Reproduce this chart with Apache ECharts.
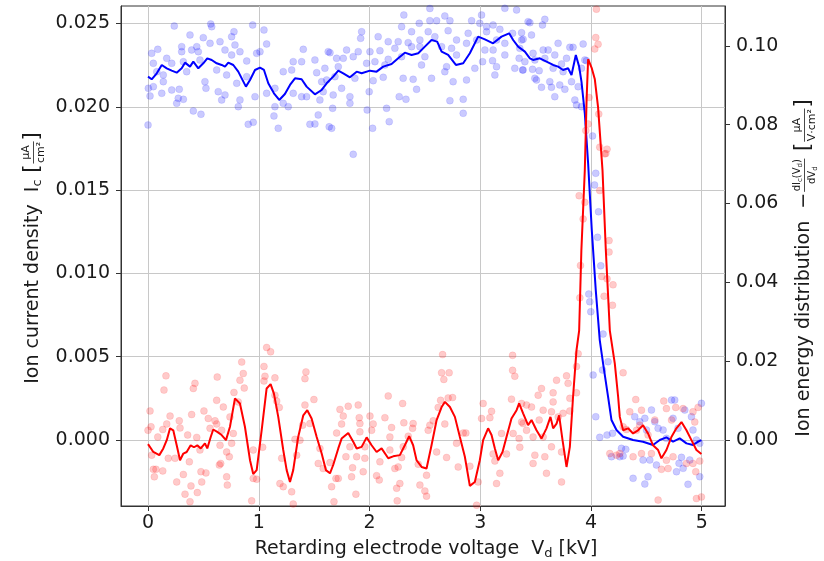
<!DOCTYPE html>
<html>
<head>
    <meta charset="UTF-8">
    <title>Ion current density and energy distribution</title>
    <script src="https://cdn.jsdelivr.net/npm/echarts@6/dist/echarts.min.js"></script>
    <style>
        html, body { margin: 0; padding: 0; background: #fff; }
        #main { width: 824px; height: 561px; }
    </style>
</head>
<body>
<div id="main"></div>
<script type="text/javascript">

    // tick positions
    var xTicks = [0, 1, 2, 3, 4, 5];
    var currentTicks = [0, 0.005, 0.010, 0.015, 0.020, 0.025];
    var distTicks = [0, 0.02, 0.04, 0.06, 0.08, 0.10];

    // measured ion current density (blue dots), [V_d kV, I_c]
    var currentDots = [
        [0.237,0.02485],[0.566,0.02497],[0.575,0.02481],[0.945,0.02491],[0.379,0.02431],[0.776,0.02451],[0.755,0.02421],[1.047,0.02461],
        [0.499,0.02415],[0.650,0.02391],[0.560,0.02381],[0.440,0.02361],[0.304,0.02361],[1.071,0.02377],[0.785,0.02371],[0.088,0.02345],
        [0.033,0.02321],[0.304,0.02331],[0.394,0.02341],[0.454,0.02331],[0.695,0.02341],[0.830,0.02331],[0.981,0.02321],[1.011,0.02331],
        [1.402,0.02345],[1.627,0.02331],[0.169,0.02291],[0.048,0.02261],[0.214,0.02261],[0.319,0.02271],[0.469,0.02281],[0.755,0.02311],
        [0.891,0.02275],[1.311,0.02271],[1.387,0.02271],[1.507,0.02281],[0.079,0.02211],[0.138,0.02191],[0.349,0.02211],[0.620,0.02221],
        [0.710,0.02191],[0.891,0.02181],[1.221,0.02211],[1.297,0.02221],[1.523,0.02205],[0.003,0.02111],[0.048,0.02121],[0.138,0.02151],
        [0.214,0.02101],[0.282,0.02105],[0.514,0.02151],[0.523,0.02111],[0.634,0.02091],[0.801,0.02141],[1.071,0.02081],[1.146,0.02111],
        [1.311,0.02081],[1.387,0.02061],[1.568,0.02151],[0.018,0.02065],[0.124,0.02081],[0.273,0.02051],[0.319,0.02045],[0.665,0.02041],
        [0.695,0.02071],[0.830,0.02041],[0.966,0.02061],[1.221,0.02021],[1.266,0.02001],[1.432,0.02061],[0.259,0.02021],[0.815,0.02001],
        [1.146,0.02001],[0.409,0.01975],[0.478,0.01955],[1.137,0.01945],[1.537,0.01951],[0.000,0.01891],[0.905,0.01895],[0.950,0.01907],
        [1.176,0.01871],[1.462,0.01895],[1.507,0.01897],[1.636,0.01880],
        [2.310,0.02551],[2.680,0.02545],[3.012,0.02551],[2.545,0.02590],[3.222,0.02591],[3.328,0.02581],[2.290,0.02481],[2.449,0.02501],
        [2.545,0.02517],[2.606,0.02517],[2.726,0.02517],[2.922,0.02517],[2.996,0.02501],[3.057,0.02481],[3.116,0.02491],[3.432,0.02511],
        [1.929,0.02451],[1.920,0.02411],[2.380,0.02451],[2.530,0.02451],[2.710,0.02457],[2.891,0.02441],[3.057,0.02451],[3.177,0.02465],
        [3.292,0.02441],[3.373,0.02445],[2.078,0.02421],[2.169,0.02391],[2.259,0.02391],[2.349,0.02385],[2.455,0.02401],[2.590,0.02421],
        [2.786,0.02401],[2.876,0.02381],[2.967,0.02401],[3.147,0.02401],[3.222,0.02381],[3.373,0.02401],[1.793,0.02341],[1.898,0.02331],
        [2.004,0.02331],[2.094,0.02337],[2.229,0.02351],[2.380,0.02361],[2.455,0.02361],[2.651,0.02361],[2.741,0.02351],[3.042,0.02341],
        [3.116,0.02341],[3.222,0.02311],[1.643,0.02325],[1.703,0.02291],[1.763,0.02291],[1.853,0.02301],[2.049,0.02271],[2.169,0.02285],
        [2.290,0.02301],[2.500,0.02301],[2.786,0.02311],[3.021,0.02271],[3.111,0.02277],[3.351,0.02291],[1.597,0.02231],[1.718,0.02241],
        [1.974,0.02261],[2.139,0.02251],[2.470,0.02251],[2.696,0.02241],[2.951,0.02231],[3.147,0.02241],[3.312,0.02231],[3.387,0.02221],
        [1.613,0.02161],[1.688,0.02181],[1.868,0.02171],[2.033,0.02157],[2.124,0.02177],[2.304,0.02171],[2.394,0.02165],[2.560,0.02171],
        [2.680,0.02211],[2.755,0.02151],[2.876,0.02161],[3.132,0.02191],[1.582,0.02091],[1.748,0.02111],[1.997,0.02091],[2.425,0.02105],
        [1.672,0.02071],[1.823,0.02061],[2.268,0.02061],[2.329,0.02045],[1.552,0.02041],[2.726,0.02037],[2.846,0.02045],[1.823,0.02021],
        [1.667,0.01991],[1.979,0.01981],[2.154,0.01991],[2.178,0.01911],[2.846,0.01961],[1.658,0.01871],[2.028,0.01871],[1.853,0.01715],
        [3.583,0.02525],[3.562,0.02491],[3.448,0.02505],[3.463,0.02431],[3.387,0.02405],[3.357,0.02351],[3.477,0.02321],[3.568,0.02341],
        [3.613,0.02341],[3.703,0.02381],[3.809,0.02357],[3.838,0.02357],[3.929,0.02377],[3.403,0.02271],[3.493,0.02281],[3.583,0.02291],
        [3.673,0.02311],[3.734,0.02257],[3.779,0.02291],[3.944,0.02281],[3.959,0.02277],[3.382,0.02221],[3.472,0.02225],[3.532,0.02217],
        [3.658,0.02231],[3.748,0.02211],[3.914,0.02231],[3.493,0.02171],[3.508,0.02161],[3.628,0.02151],[3.718,0.02131],[3.824,0.02151],
        [3.553,0.02117],[3.643,0.02117],[3.764,0.02105],[3.884,0.02121],[3.673,0.02061],[3.854,0.02041],[3.869,0.02011],[3.914,0.02001],
        [4.014,0.01825],[4.043,0.01601],[4.032,0.01531],[4.068,0.01370],[4.059,0.01217],[4.088,0.01046],[3.980,0.00876],[3.989,0.00830],
        [3.998,0.00770],[4.109,0.00636],[4.019,0.00390],[4.104,0.00420],[4.154,0.00470],[4.043,0.00140],[4.079,0.00016],[4.145,0.00030],
        [4.194,0.00040],[4.185,-0.00100],[4.275,-0.00050],[4.314,-0.00056],[4.260,-0.00100],[4.290,-0.00096],[4.380,-0.00230],[4.395,0.00140],
        [4.440,0.00110],[4.486,0.00130],[4.501,0.00060],[4.546,0.00180],[4.576,0.00110],[4.606,0.00070],[4.470,-0.00120],[4.486,-0.00264],
        [4.515,-0.00220],[4.531,-0.00120],[4.591,-0.00150],[4.651,0.00060],[4.681,0.00010],[4.727,0.00240],[4.756,0.00240],[4.741,0.00130],
        [4.786,0.00070],[4.795,-0.00140],[4.817,-0.00104],[4.847,0.00180],[4.772,-0.00190],[4.832,-0.00170],[4.876,-0.00266],[4.907,0.00140],
        [4.921,0.00060],[4.952,0.00000],[4.982,-0.00020],[4.997,0.00220],[4.982,-0.00220],[4.892,-0.00120]
    ];

    // smoothed ion current density (blue line)
    var currentLine = [
        [0.000,0.02181],[0.033,0.02165],[0.079,0.02201],[0.124,0.02251],[0.169,0.02231],[0.214,0.02217],[0.259,0.02205],[0.304,0.02231],
        [0.334,0.02265],[0.379,0.02241],[0.409,0.02271],[0.454,0.02231],[0.499,0.02261],[0.535,0.02291],[0.575,0.02281],[0.620,0.02261],
        [0.665,0.02251],[0.695,0.02241],[0.725,0.02265],[0.770,0.02251],[0.815,0.02211],[0.884,0.02121],[0.921,0.02161],[0.966,0.02221],
        [1.011,0.02235],[1.047,0.02221],[1.086,0.02141],[1.137,0.02081],[1.185,0.02041],[1.236,0.02077],[1.282,0.02131],[1.327,0.02171],
        [1.387,0.02165],[1.432,0.02121],[1.507,0.02075],[1.568,0.02101],[1.613,0.02141],[1.672,0.02181],[1.718,0.02217],[1.763,0.02201],
        [1.823,0.02177],[1.884,0.02211],[1.929,0.02201],[2.004,0.02217],[2.064,0.02211],[2.124,0.02241],[2.199,0.02257],[2.259,0.02291],
        [2.319,0.02325],[2.380,0.02311],[2.440,0.02321],[2.500,0.02361],[2.560,0.02401],[2.611,0.02391],[2.651,0.02331],[2.710,0.02311],
        [2.780,0.02251],[2.846,0.02261],[2.906,0.02321],[2.981,0.02421],[3.042,0.02405],[3.116,0.02381],[3.192,0.02421],[3.261,0.02441],
        [3.297,0.02401],[3.342,0.02361],[3.403,0.02331],[3.448,0.02291],[3.477,0.02281],[3.538,0.02291],[3.598,0.02271],[3.658,0.02251],
        [3.703,0.02241],[3.748,0.02221],[3.793,0.02231],[3.824,0.02191],[3.863,0.02311],[3.893,0.02241],[3.914,0.02151],[3.944,0.01961],
        [3.974,0.01661],[4.007,0.01261],[4.043,0.00900],[4.079,0.00600],[4.109,0.00460],[4.154,0.00260],[4.185,0.00120],[4.230,0.00060],
        [4.290,0.00020],[4.380,0.00000],[4.470,-0.00010],[4.560,-0.00030],[4.621,0.00000],[4.681,0.00016],[4.741,-0.00010],[4.801,0.00010],
        [4.862,-0.00020],[4.922,-0.00030],[4.967,-0.00010],[4.997,0.00000]
    ];

    // raw energy distribution (red dots), [V_d kV, -dI/dV]
    var distDots = [
        [1.071,0.0235],[1.107,0.0224],[0.846,0.0198],[0.162,0.0163],[0.144,0.0127],[0.424,0.0144],[0.409,0.0131],[0.625,0.0160],
        [0.830,0.0152],[0.860,0.0169],[0.869,0.0132],[1.047,0.0187],[1.056,0.0162],[1.047,0.0150],[1.146,0.0158],[1.426,0.0173],
        [1.417,0.0156],[0.776,0.0121],[0.620,0.0101],[0.680,0.0084],[0.815,0.0097],[1.146,0.0114],[1.162,0.0099],[1.185,0.0083],
        [1.498,0.0103],[1.417,0.0089],[0.018,0.0074],[0.199,0.0061],[0.282,0.0049],[0.394,0.0065],[0.505,0.0074],[0.544,0.0055],
        [0.605,0.0049],[0.740,0.0059],[0.000,0.0025],[0.027,0.0034],[0.133,0.0027],[0.169,0.0041],[0.289,0.0031],[0.560,0.0030],
        [0.620,0.0041],[0.665,0.0025],[0.770,0.0017],[1.396,0.0038],[1.462,0.0042],[0.088,0.0008],[0.358,0.0013],[0.440,0.0007],
        [0.650,-0.0013],[0.755,-0.0008],[0.950,-0.0025],[1.035,-0.0018],[1.327,0.0002],[1.372,0.0000],[1.552,-0.0021],[0.033,-0.0038],
        [0.183,-0.0046],[0.244,-0.0046],[0.373,-0.0055],[0.469,-0.0025],[0.710,-0.0030],[0.734,-0.0042],[0.656,-0.0059],[0.644,-0.0063],
        [1.207,-0.0046],[1.342,-0.0038],[1.537,-0.0059],[1.582,-0.0072],[0.048,-0.0074],[0.072,-0.0074],[0.133,-0.0078],[0.057,-0.0093],
        [0.319,-0.0087],[0.478,-0.0080],[0.523,-0.0083],[0.710,-0.0093],[0.950,-0.0097],[0.981,-0.0099],[1.191,-0.0110],[0.259,-0.0106],
        [0.485,-0.0106],[0.388,-0.0116],[0.716,-0.0114],[1.221,-0.0118],[1.297,-0.0131],[0.334,-0.0137],[0.445,-0.0133],[0.379,-0.0156],
        [0.936,-0.0154],[1.311,-0.0162],
        [2.660,0.0217],[3.292,0.0215],[2.651,0.0171],[2.719,0.0171],[2.671,0.0154],[3.292,0.0177],[3.312,0.0162],[2.169,0.0112],
        [2.642,0.0101],[2.710,0.0107],[2.750,0.0108],[3.282,0.0104],[1.733,0.0078],[1.808,0.0086],[1.898,0.0089],[2.299,0.0093],
        [3.026,0.0093],[3.418,0.0089],[1.763,0.0061],[1.907,0.0057],[2.004,0.0061],[2.139,0.0057],[2.620,0.0083],[3.102,0.0073],
        [3.012,0.0055],[3.087,0.0057],[1.748,0.0041],[1.913,0.0042],[2.033,0.0041],[2.199,0.0032],[2.310,0.0044],[2.394,0.0042],
        [2.545,0.0038],[2.575,0.0049],[2.680,0.0041],[3.373,0.0046],[1.703,0.0018],[1.913,0.0021],[2.019,0.0025],[2.184,0.0008],
        [2.350,0.0010],[2.389,0.0030],[2.530,0.0025],[2.846,0.0018],[2.870,0.0018],[3.192,0.0017],[3.297,0.0017],[3.351,0.0004],
        [1.823,-0.0017],[1.958,-0.0017],[2.304,-0.0017],[2.606,-0.0030],[2.786,-0.0008],[3.357,-0.0018],[1.787,-0.0042],[1.884,-0.0042],
        [1.958,-0.0046],[2.094,-0.0055],[2.184,-0.0025],[2.290,-0.0044],[2.696,-0.0044],[3.116,-0.0035],[3.237,-0.0035],[3.132,-0.0053],
        [1.643,-0.0057],[1.847,-0.0070],[1.943,-0.0080],[2.064,-0.0090],[2.229,-0.0072],[2.259,-0.0068],[2.440,-0.0061],[2.515,-0.0089],
        [2.801,-0.0068],[2.906,-0.0066],[3.177,-0.0084],[1.697,-0.0097],[1.718,-0.0097],[1.838,-0.0093],[2.088,-0.0101],[2.274,-0.0110],
        [2.455,-0.0114],[2.981,-0.0106],[3.147,-0.0110],[1.658,-0.0118],[2.245,-0.0122],[2.500,-0.0129],[1.877,-0.0137],[2.515,-0.0142],
        [1.679,-0.0156],[2.250,-0.0154],[2.967,-0.0165],
        [4.290,0.0171],[3.884,0.0219],[3.869,0.0187],[3.779,0.0163],[3.689,0.0152],[3.793,0.0144],[3.553,0.0131],[3.658,0.0120],
        [3.869,0.0120],[3.523,0.0114],[3.809,0.0106],[3.373,0.0093],[3.463,0.0084],[3.658,0.0097],[3.568,0.0076],[3.643,0.0072],
        [3.809,0.0074],[3.748,0.0068],[3.387,0.0042],[3.532,0.0051],[3.704,0.0059],[3.418,0.0025],[3.477,0.0008],[3.568,0.0008],
        [3.643,-0.0017],[3.734,-0.0030],[3.493,-0.0038],[3.583,-0.0042],[3.477,-0.0059],[3.598,-0.0084],[3.734,-0.0106],[4.404,0.0103],
        [4.350,0.0072],[4.456,0.0076],[4.657,0.0099],[4.681,0.0080],[4.765,0.0083],[4.831,0.0080],[4.921,0.0072],[4.967,0.0083],
        [4.576,0.0051],[4.727,0.0051],[4.937,0.0046],[4.290,0.0034],[4.320,0.0027],[4.411,0.0025],[4.515,0.0013],[4.440,0.0038],
        [4.170,-0.0034],[4.230,-0.0038],[4.260,-0.0034],[4.380,-0.0042],[4.456,-0.0034],[4.546,-0.0034],[4.741,-0.0042],[4.921,-0.0059],
        [4.982,-0.0053],[4.636,-0.0074],[4.681,-0.0051],[4.696,-0.0072],[4.862,-0.0059],[4.946,-0.0080],[4.606,-0.0152],[4.952,-0.0148],
        [4.997,-0.0144],
        [3.893,0.0620],[3.944,0.0603],[3.929,0.0561],[3.905,0.0443],[3.899,0.0361],[4.079,0.0633],[4.163,0.0506],[4.163,0.0477],
        [4.097,0.0415],[4.145,0.0409],[4.199,0.0394],[4.118,0.0365],[4.194,0.0342],[4.134,0.0727],[4.049,0.1093],[4.043,0.1021],
        [4.064,0.1004],[4.034,0.0992],[3.983,0.0869],[4.070,0.0827],[3.974,0.0802],[3.953,0.0785],[4.079,0.0743],[4.145,0.0738],
        [4.124,0.0726]
    ];

    // smoothed energy distribution (red line)
    var distLine = [
        [0.000,-0.0010],[0.048,-0.0030],[0.102,-0.0038],[0.138,-0.0021],[0.169,0.0000],[0.199,0.0030],[0.228,0.0025],[0.259,-0.0013],
        [0.289,-0.0051],[0.319,-0.0034],[0.349,-0.0030],[0.385,-0.0013],[0.415,-0.0018],[0.445,-0.0013],[0.476,-0.0021],[0.514,-0.0008],
        [0.535,-0.0021],[0.566,0.0008],[0.589,0.0027],[0.625,0.0021],[0.665,0.0013],[0.704,0.0000],[0.740,0.0034],[0.785,0.0106],
        [0.830,0.0093],[0.875,0.0034],[0.921,-0.0051],[0.950,-0.0086],[0.981,-0.0076],[1.026,0.0025],[1.071,0.0131],[1.107,0.0142],
        [1.137,0.0118],[1.176,0.0059],[1.221,-0.0025],[1.252,-0.0076],[1.282,-0.0106],[1.311,-0.0076],[1.356,0.0008],[1.402,0.0063],
        [1.438,0.0076],[1.477,0.0055],[1.523,0.0008],[1.568,-0.0034],[1.606,-0.0076],[1.643,-0.0084],[1.672,-0.0063],[1.718,-0.0021],
        [1.748,0.0004],[1.808,0.0018],[1.853,-0.0004],[1.884,-0.0021],[1.929,-0.0017],[1.974,0.0007],[2.019,-0.0013],[2.064,-0.0030],
        [2.109,-0.0021],[2.169,-0.0046],[2.214,-0.0041],[2.274,-0.0038],[2.319,-0.0013],[2.358,0.0010],[2.394,-0.0013],[2.425,-0.0051],
        [2.470,-0.0068],[2.515,-0.0072],[2.560,-0.0013],[2.606,0.0051],[2.651,0.0084],[2.681,0.0097],[2.726,0.0084],[2.771,0.0059],
        [2.816,0.0008],[2.861,-0.0042],[2.906,-0.0116],[2.951,-0.0106],[2.996,-0.0051],[3.026,0.0000],[3.071,0.0030],[3.102,0.0013],
        [3.132,-0.0021],[3.162,-0.0051],[3.201,-0.0030],[3.237,0.0008],[3.282,0.0055],[3.328,0.0076],[3.351,0.0093],[3.387,0.0068],
        [3.432,0.0038],[3.463,0.0051],[3.508,0.0025],[3.553,0.0004],[3.598,0.0030],[3.634,0.0059],[3.658,0.0030],[3.689,0.0042],
        [3.712,0.0063],[3.743,0.0000],[3.779,-0.0068],[3.809,-0.0017],[3.838,0.0110],[3.869,0.0228],[3.893,0.0278],[3.913,0.0481],
        [3.944,0.0684],[3.960,0.0861],[3.974,0.0966],[4.005,0.0945],[4.034,0.0916],[4.064,0.0844],[4.104,0.0684],[4.134,0.0481],
        [4.170,0.0278],[4.215,0.0194],[4.245,0.0110],[4.260,0.0059],[4.290,0.0025],[4.335,0.0030],[4.380,0.0017],[4.425,0.0025],
        [4.470,0.0038],[4.515,0.0017],[4.560,-0.0013],[4.606,-0.0025],[4.636,-0.0046],[4.681,-0.0025],[4.726,0.0008],[4.771,0.0030],
        [4.817,0.0046],[4.862,0.0025],[4.907,0.0000],[4.952,-0.0025],[4.997,-0.0035]
    ];

    var FONT = 'DejaVu Sans';
    var INK = '#1a1a1a';

    var measureCtx = document.createElement('canvas').getContext('2d');
    function textWidth(str, size) {
        measureCtx.font = size + 'px "' + FONT + '"';
        return measureCtx.measureText(str).width;
    }
    function runsWidth(runs) {
        var w = 0;
        runs.forEach(function (r) { w += textWidth(r[0], r[1]); });
        return w;
    }
    function placeRuns(runs, x, y, out) {
        runs.forEach(function (r) {
            out.push({
                type: 'text', x: x, y: y + r[2],
                style: { text: r[0], fontSize: r[1], fontFamily: FONT, fill: INK, align: 'left', verticalAlign: 'middle' }
            });
            x += textWidth(r[0], r[1]);
        });
        return x;
    }

    // axis title made of plain runs and stacked fractions
    function buildLabel(parts, cx, cy, rotation) {
        var widths = parts.map(function (p) {
            if (p.runs) return runsWidth(p.runs);
            return Math.max(runsWidth(p.num), runsWidth(p.den)) + 3;
        });
        var total = widths.reduce(function (a, b) { return a + b; }, 0);
        var x = -total / 2;
        var children = [];
        parts.forEach(function (p, i) {
            var w = widths[i];
            if (p.runs) {
                placeRuns(p.runs, x, 0, children);
            } else {
                placeRuns(p.num, x + (w - runsWidth(p.num)) / 2, -7, children);
                placeRuns(p.den, x + (w - runsWidth(p.den)) / 2, 8, children);
                children.push({
                    type: 'line',
                    shape: { x1: x + 1, y1: 0.5, x2: x + w - 1, y2: 0.5 },
                    style: { stroke: INK, lineWidth: 0.8 }
                });
            }
            x += w;
        });
        return { type: 'group', x: cx, y: cy, rotation: rotation, silent: true, children: children };
    }

    var xTitle = buildLabel([
        { runs: [['Retarding electrode voltage  V', 19, 0], ['d', 13, 5], [' [kV]', 19, 0]] }
    ], 426, 549, 0);

    var leftTitle = buildLabel([
        { runs: [['Ion current density  I', 19, 0], ['c', 13, 5], [' [', 21, 0]] },
        { num: [['μA', 11, 0]], den: [['cm²', 11, 0]] },
        { runs: [[']', 21, 0]] }
    ], 33, 258, Math.PI / 2);

    var rightTitle = buildLabel([
        { runs: [['Ion energy distribution  −', 19, 0]] },
        { num: [['dI', 10, 0], ['c', 7, 3], ['(V', 10, 0], ['d', 7, 3], [')', 10, 0]], den: [['dV', 10, 0], ['d', 7, 3]] },
        { runs: [[' [', 21, 0]] },
        { num: [['μA', 11, 0]], den: [['V·cm²', 11, 0]] },
        { runs: [[']', 21, 0]] }
    ], 804, 268, Math.PI / 2);

    var myChart = echarts.init(document.getElementById('main'));

    var option = {
        animation: false,
        backgroundColor: '#fff',
        grid: {
            left: 121, right: 99, top: 6, bottom: 55,
            show: true, borderColor: '#333', borderWidth: 1
        },
        xAxis: {
            type: 'value', min: -0.244, max: 5.21,
            axisLine: { show: true, onZero: false, lineStyle: { color: '#333' } },
            axisTick: { show: true, customValues: xTicks, length: 5, lineStyle: { color: '#333' } },
            axisLabel: {
                customValues: xTicks, fontSize: 19, fontFamily: FONT, color: INK, margin: 8,
                formatter: function (v) { return String(Math.round(v)); }
            },
            splitLine: { show: true, lineStyle: { color: '#c8c8c8', width: 1 } }
        },
        yAxis: [
            {
                type: 'value', position: 'left', min: -0.00396, max: 0.02605,
                axisLine: { show: true, onZero: false, lineStyle: { color: '#333' } },
                axisTick: { show: true, customValues: currentTicks, length: 5, lineStyle: { color: '#333' } },
                axisLabel: {
                    customValues: currentTicks, fontSize: 19, fontFamily: FONT, color: INK, margin: 11,
                    formatter: function (v) { return v.toFixed(3); }
                },
                splitLine: { show: true, lineStyle: { color: '#c8c8c8', width: 1 } }
            },
            {
                type: 'value', position: 'right', min: -0.0167, max: 0.1101,
                axisLine: { show: true, onZero: false, lineStyle: { color: '#333' } },
                axisTick: { show: true, customValues: distTicks, length: 5, lineStyle: { color: '#333' } },
                axisLabel: {
                    customValues: distTicks, fontSize: 19, fontFamily: FONT, color: INK, margin: 11,
                    formatter: function (v) { return v.toFixed(2); }
                },
                splitLine: { show: false }
            }
        ],
        graphic: [xTitle, leftTitle, rightTitle],
        series: [
            {
                name: 'Ic raw', type: 'scatter', yAxisIndex: 0, data: currentDots,
                symbolSize: 7, silent: true,
                itemStyle: { color: 'rgba(0,0,255,0.26)', borderColor: 'rgba(0,0,255,0.12)', borderWidth: 1 }
            },
            {
                name: 'dist raw', type: 'scatter', yAxisIndex: 1, data: distDots,
                symbolSize: 7, silent: true,
                itemStyle: { color: 'rgba(255,0,0,0.26)', borderColor: 'rgba(255,0,0,0.12)', borderWidth: 1 }
            },
            {
                name: 'Ic', type: 'line', yAxisIndex: 0, data: currentLine,
                showSymbol: false, silent: true,
                lineStyle: { color: '#0000ff', width: 2 }
            },
            {
                name: 'dist', type: 'line', yAxisIndex: 1, data: distLine,
                showSymbol: false, silent: true,
                lineStyle: { color: '#ff0000', width: 2 }
            }
        ]
    };
    myChart.setOption(option);

</script>
</body>
</html>
